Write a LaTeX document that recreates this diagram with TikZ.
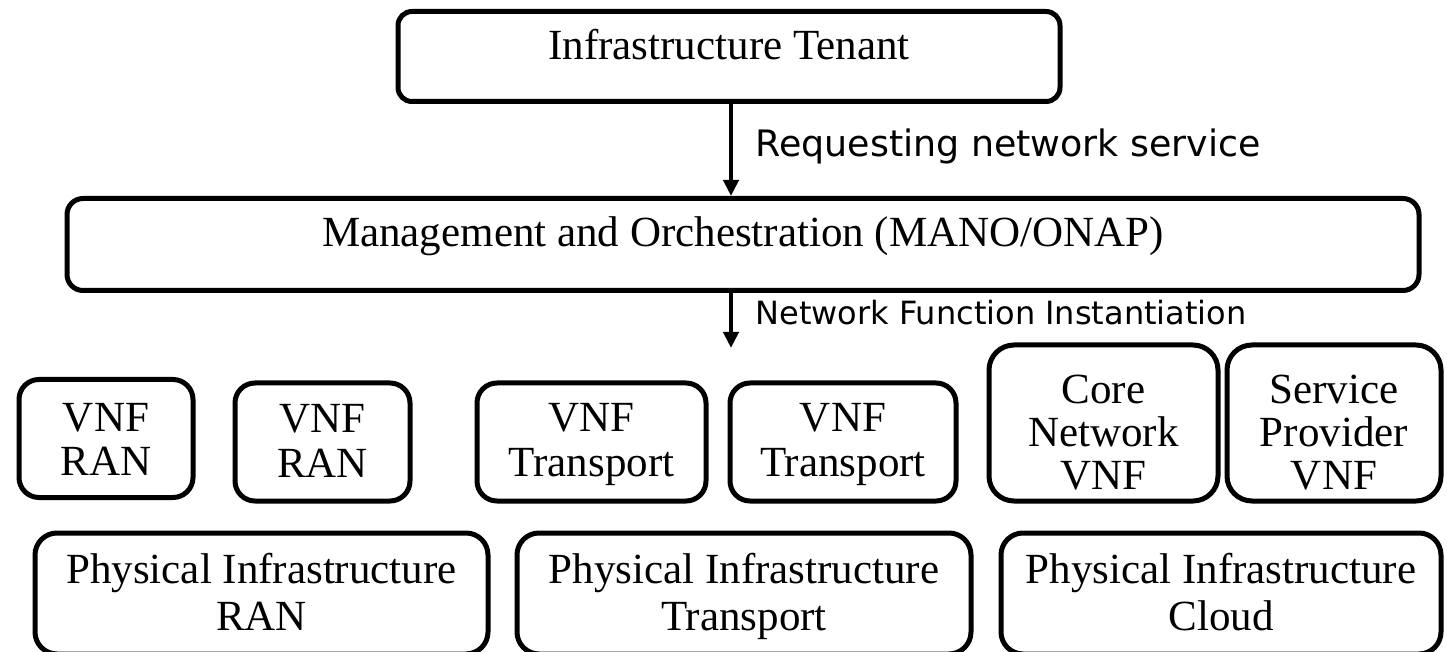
\documentclass[tikz,border=0pt]{standalone}
\usepackage{fontspec}
\setmainfont{Liberation Serif}
\newfontfamily\lblfont{DejaVu Sans}
\usetikzlibrary{arrows.meta}

\tikzset{
  box/.style={draw, line width=2.5pt, fill=white, inner sep=0pt},
  ln/.style={anchor=base, inner sep=0pt,
    font=\fontsize{21.5pt}{22pt}\selectfont},
  flow/.style={line width=2pt, -{Triangle[length=8pt,width=7.5pt]}},
  flowlbl/.style={anchor=base west, inner sep=0pt},
}

\begin{document}
\begin{tikzpicture}[x=0.5pt, y=-0.5pt]
  \clip (0,0) rectangle (1447,652);
  \fill[white] (0,0) rectangle (1447,652);

  % top level: tenant and orchestrator
  \node[box, rounded corners=7pt, minimum width=331pt, minimum height=45pt]
    (tenant) at (729,56.5) {};
  \node[ln] (tenanttxt) at (729,60) {Infrastructure Tenant};

  \node[box, rounded corners=8pt, minimum width=676pt, minimum height=46pt]
    (mano) at (743,244.5) {};
  \node[ln] (manotxt) at (743,247)
    {Management and Orchestration (MANO/ONAP)};

  % vertical flow line
  \coordinate (ax) at (731,0);
  \coordinate (nfi) at (731,348);
  \draw[flow] (tenant.south -| ax) -- (mano.north -| ax);
  \draw[flow] (mano.south -| ax) -- (nfi);
  \node[flowlbl, font=\lblfont\fontsize{18.2pt}{20pt}\selectfont]
    (req) at (755,157) {Requesting network service};
  \node[flowlbl, font=\lblfont\fontsize{16pt}{18pt}\selectfont]
    (inst) at (755,325) {Network Function Instantiation};

  % virtual network functions
  \node[box, rounded corners=10pt, minimum width=87pt, minimum height=59pt]
    (vran1) at (106,438.5) {};
  \node[ln] (vran1a) at (106,431) {VNF};
  \node[ln] (vran1b) at (106,475) {RAN};

  \node[box, rounded corners=10pt, minimum width=87.5pt, minimum height=59pt]
    (vran2) at (322.5,442) {};
  \node[ln] (vran2a) at (322.5,433) {VNF};
  \node[ln] (vran2b) at (322.5,478) {RAN};

  \node[box, rounded corners=10pt, minimum width=114.5pt, minimum height=59pt]
    (vtr1) at (591.5,442) {};
  \node[ln] (vtr1a) at (591.5,431) {VNF};
  \node[ln] (vtr1b) at (591.5,476) {Transport};

  \node[box, rounded corners=10pt, minimum width=113pt, minimum height=59pt]
    (vtr2) at (843,442) {};
  \node[ln] (vtr2a) at (843,431) {VNF};
  \node[ln] (vtr2b) at (843,476) {Transport};

  \node[box, rounded corners=12.5pt, minimum width=114.5pt, minimum height=78pt]
    (vcore) at (1103.5,423) {};
  \node[ln] (vcorea) at (1103.5,404) {Core};
  \node[ln] (vcoreb) at (1103.5,446) {Network};
  \node[ln] (vcorec) at (1103.5,489) {VNF};

  \node[box, rounded corners=12.5pt, minimum width=107pt, minimum height=78pt]
    (vsp) at (1334,423) {};
  \node[ln] (vspa) at (1334,404) {Service};
  \node[ln] (vspb) at (1334,446) {Provider};
  \node[ln] (vspc) at (1334,489) {VNF};

  % physical infrastructure
  \node[box, rounded corners=11pt, minimum width=226.5pt, minimum height=60.5pt]
    (pran) at (261.5,593.5) {};
  \node[ln] (prana) at (261.5,583) {Physical Infrastructure};
  \node[ln] (pranb) at (261.5,630) {RAN};

  \node[box, rounded corners=11pt, minimum width=227pt, minimum height=60.5pt]
    (ptr) at (744,593.5) {};
  \node[ln] (ptra) at (744,583) {Physical Infrastructure};
  \node[ln] (ptrb) at (744,630) {Transport};

  \node[box, rounded corners=11pt, minimum width=220pt, minimum height=60.5pt]
    (pcl) at (1221,593.5) {};
  \node[ln] (pcla) at (1221,583) {Physical Infrastructure};
  \node[ln] (pclb) at (1221,630) {Cloud};
\end{tikzpicture}
\end{document}
